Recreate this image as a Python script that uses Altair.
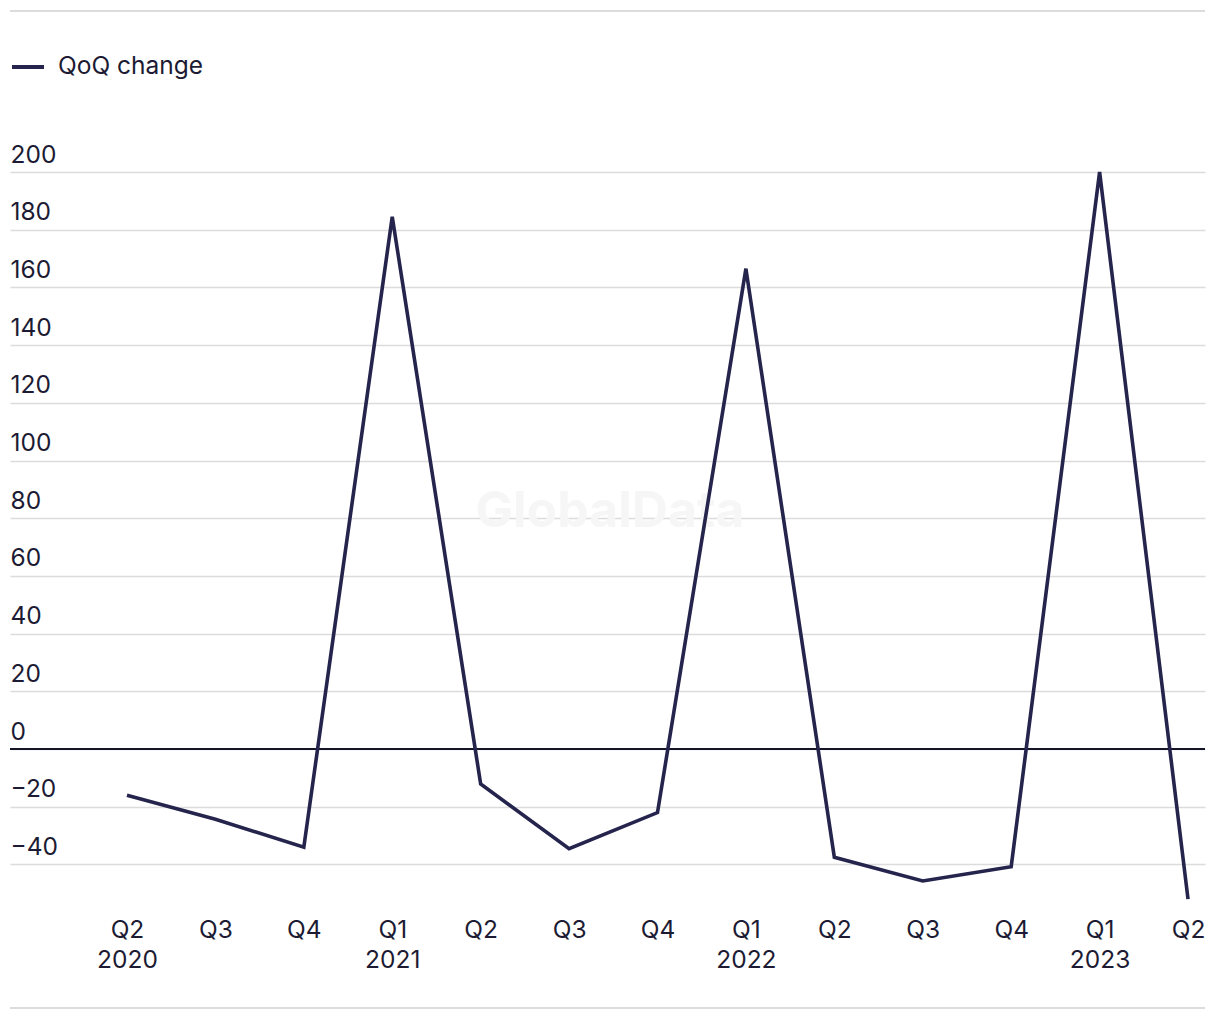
import altair as alt
import pandas as pd

quarters = ["Q2", "Q3", "Q4", "Q1", "Q2", "Q3", "Q4", "Q1", "Q2", "Q3", "Q4", "Q1", "Q2"]
years = ["2020", "", "", "2021", "", "", "", "2022", "", "", "", "2023", ""]
qoq_change = [-16, -24.3, -34, 184.5, -12.1, -34.5, -22, 166.5, -37.5, -45.7, -40.8, 200, -52]
series_name = "QoQ change"
y_ticks = [-40, -20, 0, 20, 40, 60, 80, 100, 120, 140, 160, 180, 200]

df = pd.DataFrame({
    "idx": list(range(len(quarters))),
    "quarter": quarters,
    "year": years,
    "value": qoq_change,
    "series": [series_name] * len(quarters),
})

label_list = "[" + ",".join(
    "[" + ",".join(f"'{p}'" for p in ([q, y] if y else [q])) + "]"
    for q, y in zip(quarters, years)
) + "]"

FONT = "Inter"
TXT = "#1c1b33"
LINE = "#25244d"
FS = 24.5

x_scale = alt.Scale(domain=[-1.323, 12.192], nice=False, zero=False)
y_scale = alt.Scale(domain=[-53, 200], nice=False, zero=False)

line = alt.Chart(df).mark_line(strokeWidth=3.6, clip=False).encode(
    x=alt.X("idx:Q", scale=x_scale,
            axis=alt.Axis(values=list(range(len(quarters))), labelExpr=f"{label_list}[datum.value]",
                          grid=False, domain=False, ticks=False, title=None,
                          labelFont=FONT, labelFontSize=FS, labelColor=TXT,
                          labelBaseline="top", labelPadding=16, labelLineHeight=30,
                          labelFlush=False, labelOverlap=False, labelBound=False)),
    y=alt.Y("value:Q", scale=y_scale,
            axis=alt.Axis(values=y_ticks, grid=True, gridColor="#dcdcdc", gridWidth=1.5,
                          domain=False, ticks=False, title=None, tickSize=0,
                          labelFont=FONT, labelFontSize=FS, labelColor=TXT,
                          labelAlign="left", labelBaseline="alphabetic", labelPadding=0,
                          labelOffset=-10, labelFlush=False, labelOverlap=False, labelBound=False,
                          labelExpr="datum.value < 0 ? '\u2212' + abs(datum.value) : datum.label")),
    color=alt.Color("series:N", scale=alt.Scale(range=[LINE]),
                    legend=alt.Legend(title=None, orient="none", legendX=0, legendY=-123,
                                      symbolType="stroke", symbolSize=1024, symbolStrokeWidth=4,
                                      labelFont=FONT, labelFontSize=FS, labelColor=TXT,
                                      labelOffset=12, symbolOffset=0)),
)

zero_rule = alt.Chart(pd.DataFrame({"z": [0]})).mark_rule(color="#15152a", strokeWidth=2).encode(
    y=alt.Y("z:Q", scale=y_scale), x=alt.value(0), x2=alt.value(1195)
)

frame = alt.Chart(pd.DataFrame({"pos": [-161, 836]})).mark_rule(color="#dcdcdc", strokeWidth=2, clip=False).encode(
    y=alt.Y("pos:Q", scale=None), x=alt.value(0), x2=alt.value(1195)
)

watermark = alt.Chart(pd.DataFrame({"t": ["GlobalData"]})).mark_text(
    font=FONT, fontSize=50, fontWeight="bold", color="#f6f6f6", align="center", baseline="middle"
).encode(text="t:N", x=alt.value(600), y=alt.value(340))

chart = alt.layer(watermark, zero_rule, frame, line).properties(
    width=1195, height=730,
    autosize=alt.AutoSizeParams(type="none"),
    padding={"left": 10, "top": 172, "right": 15, "bottom": 118},
).configure_view(stroke=None)

chart.save("out.html", embed_options={"renderer": "svg", "actions": False})
